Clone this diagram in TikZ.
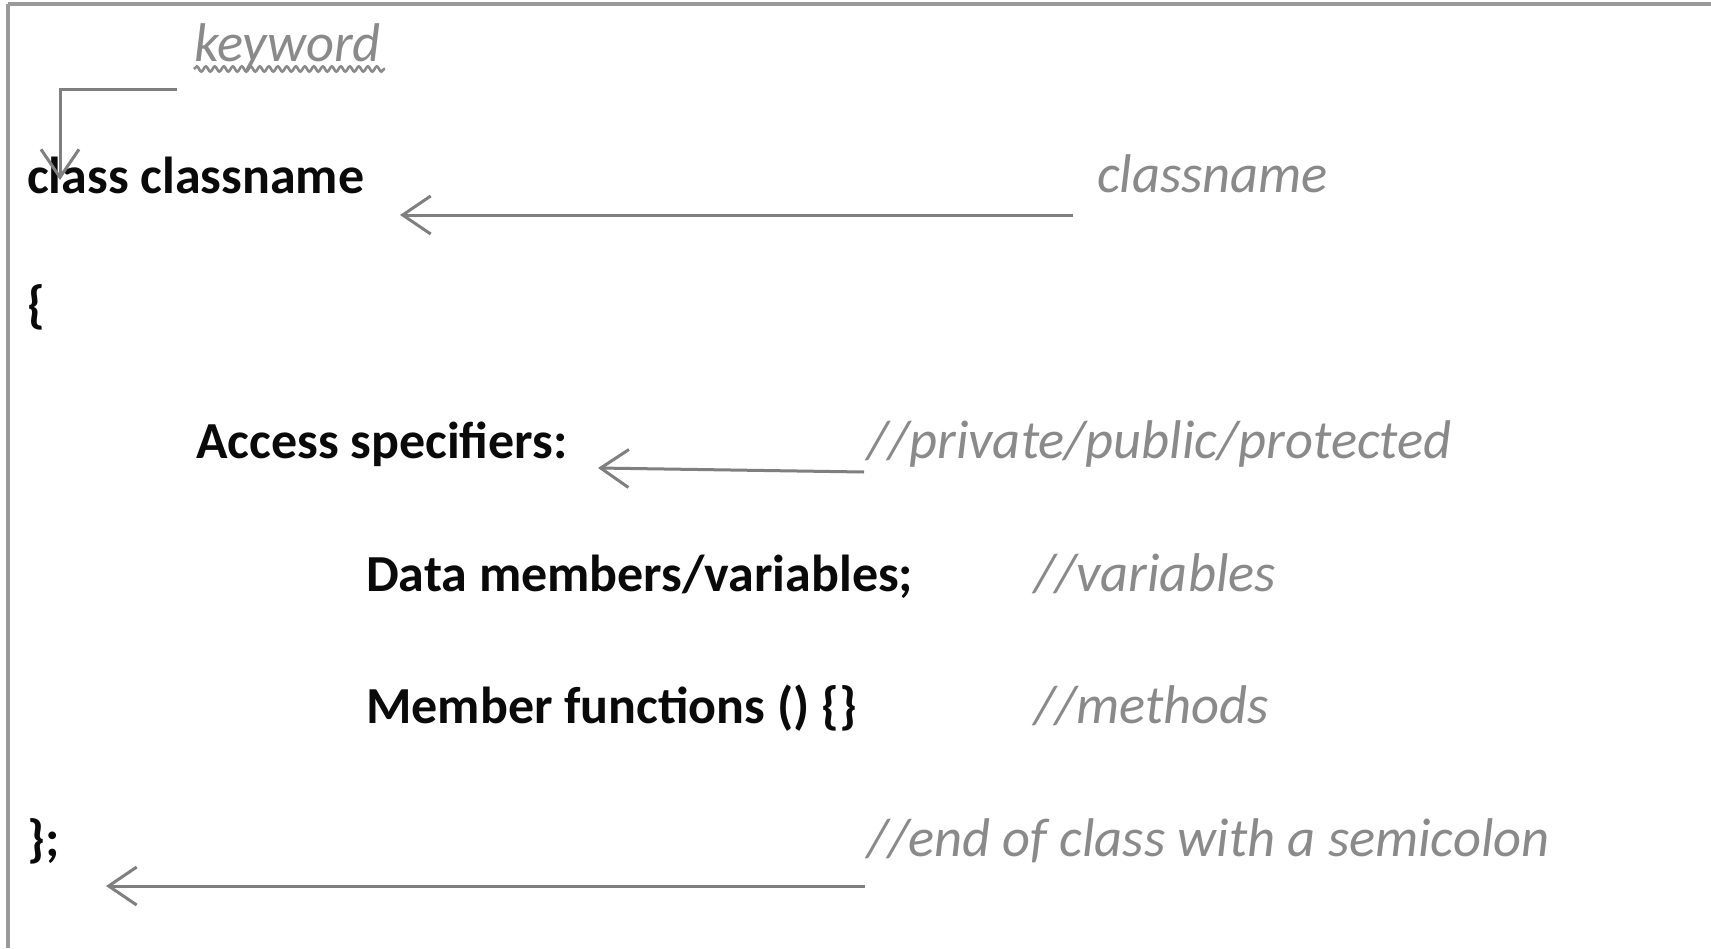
\documentclass[tikz,border=0pt]{standalone}
\usepackage{fontspec}
\setmainfont{Carlito}
\usetikzlibrary{arrows.meta,decorations.pathmorphing}
\definecolor{codecol}{HTML}{0A0A0A}
\definecolor{notecol}{HTML}{8A8A8A}
\definecolor{linecol}{HTML}{7F7F7F}
\definecolor{framecol}{HTML}{9A9A9A}
\tikzset{
  code/.style={anchor=base west, inner sep=0pt, text=codecol,
    font=\fontsize{52}{60}\selectfont\bfseries},
  note/.style={anchor=base west, inner sep=0pt, text=notecol,
    font=\fontsize{54.5}{62}\selectfont\itshape},
  pointer/.style={draw=linecol, line width=3pt,
    -{Straight Barb[length=28pt, width=38pt, line width=3pt]}},
  frameline/.style={draw=framecol, line width=3.5pt},
}
\begin{document}
\begin{tikzpicture}[x=1pt, y=-1pt]
\useasboundingbox (0,0) rectangle (1711,948);
\fill[white] (0,0) rectangle (1711,948);

% page frame: top and left rules
\draw[frameline] (8,4) -- (1711,4);
\draw[frameline] (8,4) -- (8,948);

% code lines
\node[code] (cls)    at (27,193)  {class classname};
\node[code] (open)   at (27,322)  {\{};
\node[code] (access) at (196,458) {Access specifiers:};
\node[code] (data)   at (366,591) {Data members/variables;};
\node[code] (funcs)  at (366,723) {Member functions () \{\}};
\node[code] (close)  at (27,856)  {\};};

% annotations
\node[note] (kw)     at (194,61)   {keyword};
\node[note] (cname)  at (1097,192) {classname};
\node[note] (spec)   at (867,458)  {//private/public/protected};
\node[note] (vars)   at (1034,591) {//variables};
\node[note] (meth)   at (1034,723) {//methods};
\node[note] (endc)   at (867,856)  {//end of class with a semicolon};

% wavy underline below "keyword"
\draw[notecol, line width=2.6pt, decorate,
  decoration={snake, amplitude=2.6pt, segment length=9pt}]
  ([yshift=-8pt]kw.base west) -- ([yshift=-8pt, xshift=4pt]kw.base east);

% arrow end points
\coordinate (kwA)   at (177,89);
\coordinate (kwB)   at (60,180);
\coordinate (cnA)   at (1073,215);
\coordinate (cnB)   at (400,215);
\coordinate (spA)   at (864,472);
\coordinate (spB)   at (598,468);
\coordinate (ecA)   at (865,886);
\coordinate (ecB)   at (106,886);

% arrows
\draw[pointer] (kwA) -| (kwB);
\draw[pointer] (cnA) -- (cnB);
\draw[pointer] (spA) -- (spB);
\draw[pointer] (ecA) -- (ecB);
\end{tikzpicture}
\end{document}
